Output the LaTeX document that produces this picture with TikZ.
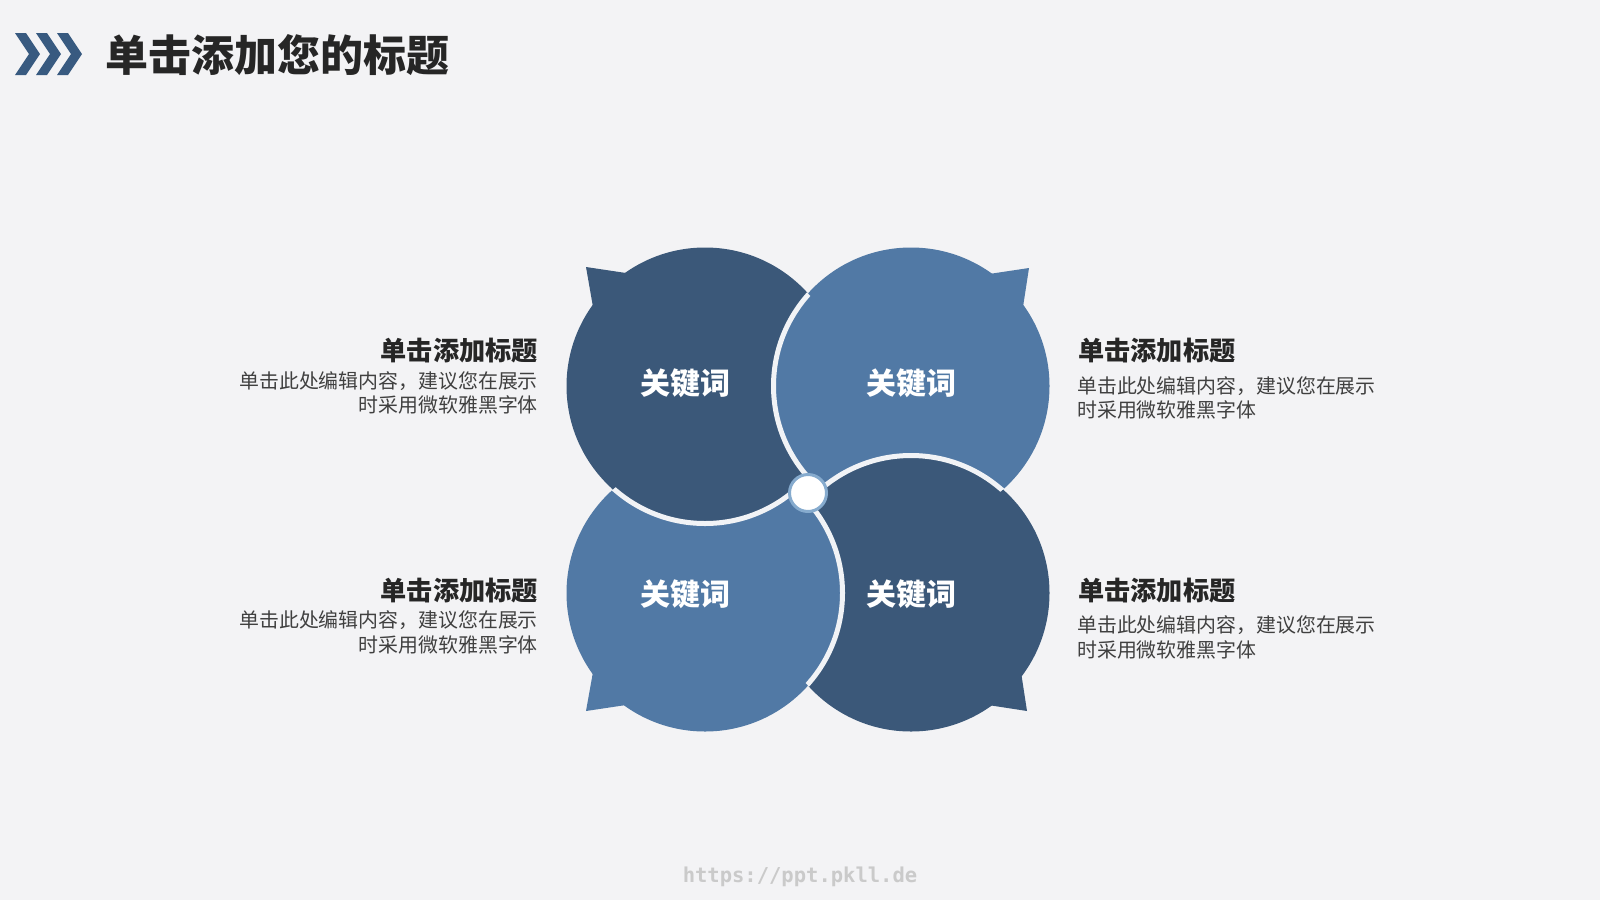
\documentclass[tikz,border=0pt]{standalone}
\usepackage{fontspec}
\newfontfamily\cjk{Noto Sans CJK SC}
\newfontfamily\wmfont{DejaVu Sans Mono}
\definecolor{bg}{HTML}{F3F3F5}
\definecolor{gap}{HTML}{F1F3F6}
\definecolor{darkb}{HTML}{3B5879}
\definecolor{lightb}{HTML}{5179A5}
\definecolor{chev}{HTML}{385A80}
\definecolor{titlec}{HTML}{262626}
\definecolor{bodyc}{HTML}{404040}
\definecolor{ringc}{HTML}{86ABCE}
\definecolor{wmc}{HTML}{CACACA}
% #1 centre, #2 colour, #3 tip, #4 #5 horn base points, #6 centre of the shape underneath
\newcommand\mypetal[6]{%
  \fill[#2] (#1) circle[radius=138.5pt];
  \fill[#2] (#3) -- (#4) -- (#1) -- (#5) -- cycle;
  \begin{scope}
    \clip (#6) circle[radius=138.5pt];
    \draw[gap,line width=5pt] (#1) circle[radius=137.5pt];
  \end{scope}
}
\tikzset{
  kw/.style={font=\cjk\bfseries\fontsize{30}{32}\selectfont, text=white, inner sep=0},
  sidettl/.style={font=\cjk\bfseries\fontsize{26.2}{30}\selectfont, text=titlec, inner sep=0},
  sidebody/.style={font=\cjk\fontsize{19.9}{24}\selectfont, text=bodyc, inner sep=0},
  chevshape/.style={fill=chev},
}
\begin{document}
\begin{tikzpicture}[x=1pt,y=-1pt]
\fill[bg] (0,0) rectangle (1600,900);
\useasboundingbox (0,0) rectangle (1600,900);

% header chevrons
\foreach \dx in {0,21,42}{
  \fill[chevshape] (15+\dx,33) -- (26+\dx,33) -- (40+\dx,54) -- (26+\dx,75) -- (15+\dx,75) -- (29+\dx,54) -- cycle;
}
\node[anchor=west, inner sep=0, font=\cjk\bfseries\fontsize{43}{48}\selectfont, text=titlec] (title) at (105,55) {单击添加您的标题};

% centres and horn points
\coordinate (tl) at (705,386);
\coordinate (tr) at (911,386);
\coordinate (bl) at (705,593);
\coordinate (br) at (911,593);
\coordinate (tlT) at (586,267); \coordinate (tlA) at (626,273); \coordinate (tlB) at (593,307);
\coordinate (trT) at (1029,268); \coordinate (trA) at (989,274); \coordinate (trB) at (1023,307);
\coordinate (blT) at (586,711); \coordinate (blA) at (593,672); \coordinate (blB) at (626,705);
\coordinate (brT) at (1027,711); \coordinate (brA) at (1021,672); \coordinate (brB) at (988,705);

\mypetal{tl}{darkb}{tlT}{tlA}{tlB}{bl}
\mypetal{tr}{lightb}{trT}{trA}{trB}{tl}
\mypetal{br}{darkb}{brT}{brA}{brB}{tr}
\mypetal{bl}{lightb}{blT}{blA}{blB}{br}
% top-left lies over bottom-left
\begin{scope}
  \clip (bl) circle[radius=141pt];
  \fill[darkb] (tl) circle[radius=138.5pt];
\end{scope}
\begin{scope}
  \clip (bl) circle[radius=138.5pt];
  \draw[gap,line width=5pt] (tl) circle[radius=137.5pt];
\end{scope}
% centre knob
\node[circle, fill=white, draw=ringc, line width=3pt, minimum size=37pt, inner sep=0] (knob) at (808,493) {};

% keywords
\node[kw] (k1) at (685,383) {关键词};
\node[kw] (k2) at (911,383) {关键词};
\node[kw] (k3) at (685,594) {关键词};
\node[kw] (k4) at (911,594) {关键词};

% left texts
\node[sidettl, anchor=east] (lt1) at (538,351) {单击添加标题};
\node[sidebody, anchor=east] (lb1a) at (538,381) {单击此处编辑内容，建议您在展示};
\node[sidebody, anchor=east] (lb1b) at (538,405) {时采用微软雅黑字体};
\node[sidettl, anchor=east] (lt2) at (538,591) {单击添加标题};
\node[sidebody, anchor=east] (lb2a) at (538,620) {单击此处编辑内容，建议您在展示};
\node[sidebody, anchor=east] (lb2b) at (538,645) {时采用微软雅黑字体};

% right texts
\node[sidettl, anchor=west] (rt1) at (1078,351) {单击添加标题};
\node[sidebody, anchor=west] (rb1a) at (1077,386) {单击此处编辑内容，建议您在展示};
\node[sidebody, anchor=west] (rb1b) at (1077,410) {时采用微软雅黑字体};
\node[sidettl, anchor=west] (rt2) at (1078,591) {单击添加标题};
\node[sidebody, anchor=west] (rb2a) at (1077,625) {单击此处编辑内容，建议您在展示};
\node[sidebody, anchor=west] (rb2b) at (1077,650) {时采用微软雅黑字体};

% watermark
\node[font=\wmfont\bfseries\fontsize{20.5}{22}\selectfont, text=wmc, inner sep=0] (wm) at (800,877) {https://ppt.pkll.de};
\end{tikzpicture}
\end{document}
